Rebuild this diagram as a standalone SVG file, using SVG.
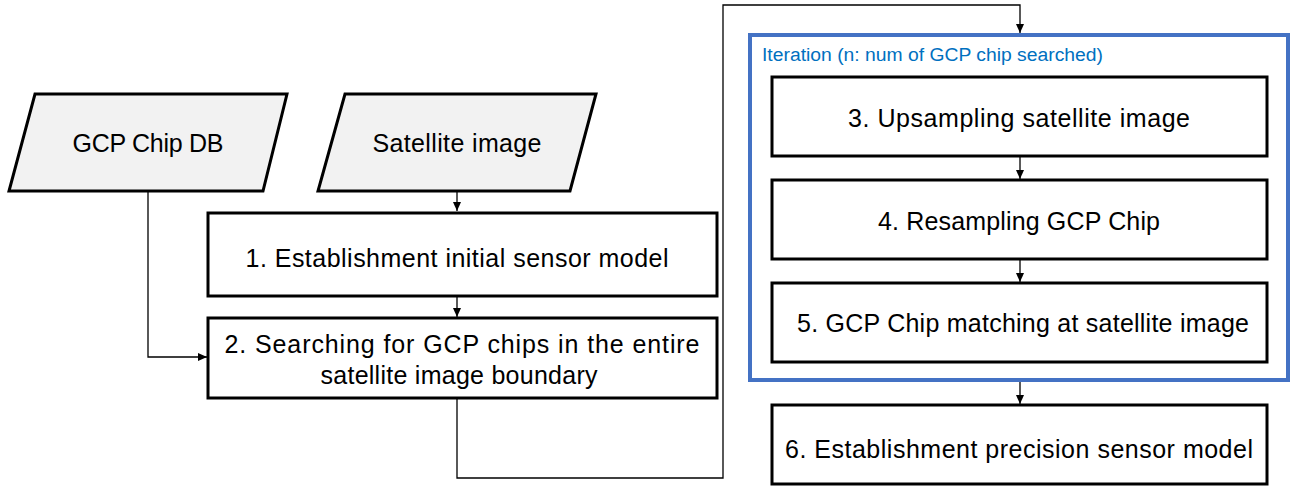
<svg xmlns="http://www.w3.org/2000/svg" width="1293" height="488" viewBox="0 0 1293 488">
<defs>
<style>
.box{fill:#fff;stroke:#000;stroke-width:3}
.io{fill:#f2f2f2;stroke:#000;stroke-width:3}
.t{font-family:"Liberation Sans",Arial,sans-serif;font-size:25px;fill:#000;text-anchor:middle}
.c{fill:none;stroke:#000;stroke-width:1.3}
.grp{fill:none;stroke:#4472c4;stroke-width:4}
.lbl{font-family:"Liberation Sans",Arial,sans-serif;font-size:18px;fill:#0070c0}
</style>
<marker id="ah" markerWidth="10" markerHeight="10" refX="9" refY="5" orient="auto" markerUnits="userSpaceOnUse">
<path d="M0,1 L9,5 L0,9 Z" fill="#000"/>
</marker>
</defs>
<rect width="1293" height="488" fill="#fff"/>
<g id="connectors">
<path class="c" d="M457,191 V211" marker-end="url(#ah)"/>
<path class="c" d="M457,296 V317" marker-end="url(#ah)"/>
<path class="c" d="M148,191 V357 H207" marker-end="url(#ah)"/>
<path class="c" d="M457,398 V478 H723 V5 H1020 V33" marker-end="url(#ah)"/>
<path class="c" d="M1020,156 V179" marker-end="url(#ah)"/>
<path class="c" d="M1020,259 V282" marker-end="url(#ah)"/>
<path class="c" d="M1020,381 V404" marker-end="url(#ah)"/>
</g>
<g id="iteration">
<rect class="grp" x="750" y="35" width="538" height="345"/>
<text class="lbl" x="762" y="61" textLength="341" lengthAdjust="spacingAndGlyphs">Iteration (n: num of GCP chip searched)</text>
</g>
<g id="gcpdb">
<polygon class="io" points="35,94 287,94 263,191 9,191"/>
<text class="t" x="148" y="152" textLength="151">GCP Chip DB</text>
</g>
<g id="satimg">
<polygon class="io" points="345,94 596,94 570,191 318,191"/>
<text class="t" x="457" y="152" textLength="169">Satellite image</text>
</g>
<g id="step1">
<rect class="box" x="208" y="213" width="509" height="83"/>
<text class="t" x="457" y="267" textLength="423">1. Establishment initial sensor model</text>
</g>
<g id="step2">
<rect class="box" x="208" y="318" width="509" height="80"/>
<text class="t" x="462" y="353" textLength="475">2. Searching for GCP chips in the entire</text>
<text class="t" x="459" y="384" textLength="277">satellite image boundary</text>
</g>
<g id="step3">
<rect class="box" x="772" y="77" width="495" height="79"/>
<text class="t" x="1019" y="127" textLength="342">3. Upsampling satellite image</text>
</g>
<g id="step4">
<rect class="box" x="772" y="180" width="495" height="79"/>
<text class="t" x="1019" y="230" textLength="282">4. Resampling GCP Chip</text>
</g>
<g id="step5">
<rect class="box" x="772" y="283" width="495" height="79"/>
<text class="t" x="1023" y="332" textLength="452">5. GCP Chip matching at satellite image</text>
</g>
<g id="step6">
<rect class="box" x="772" y="405" width="495" height="79"/>
<text class="t" x="1019" y="458" textLength="468">6. Establishment precision sensor model</text>
</g>
</svg>
